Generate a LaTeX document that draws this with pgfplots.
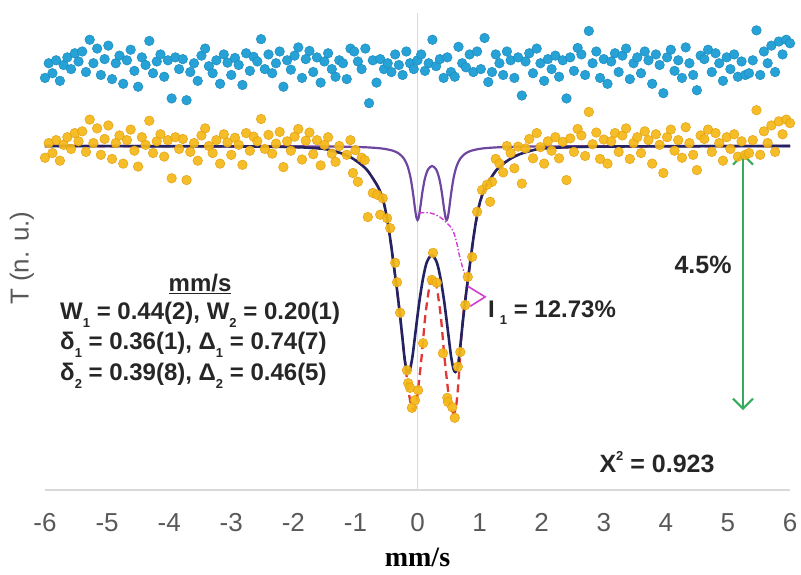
\documentclass[border=0pt]{standalone}
\usepackage{pgfplots}
\pgfplotsset{compat=1.18}
\usepackage{pgfplotstable}
\usepackage{fontspec}
\setmainfont{Liberation Sans}
\newfontfamily\timesf{Liberation Serif}
\usetikzlibrary{arrows.meta}
\definecolor{navyfit}{RGB}{35,35,100}
\definecolor{purplefit}{RGB}{110,70,160}
\definecolor{redfit}{RGB}{225,55,55}
\definecolor{magfit}{RGB}{210,60,210}
\definecolor{arrowgreen}{RGB}{55,170,95}
\definecolor{ptorange}{RGB}{244,184,22}
\definecolor{ptorangedk}{RGB}{228,160,20}
\definecolor{ptblue}{RGB}{38,162,214}
\definecolor{ptbluedk}{RGB}{30,138,190}
\definecolor{axgray}{RGB}{217,217,217}
\definecolor{tickgray}{RGB}{89,89,89}
\definecolor{textdark}{RGB}{38,38,38}
\newcommand{\sub}[1]{\raisebox{-0.3em}{\fontsize{13}{13}\selectfont #1}}

\pgfplotstableread{
x orange blue
-6.00 99.80 101.16
-5.94 100.05 101.41
-5.88 99.88 101.24
-5.82 100.10 101.46
-5.76 99.75 101.11
-5.70 100.02 101.38
-5.64 100.15 101.51
-5.58 99.95 101.31
-5.52 100.22 101.58
-5.46 100.08 101.44
-5.40 100.25 101.61
-5.34 99.90 101.26
-5.28 100.45 101.81
-5.22 100.05 101.41
-5.16 100.30 101.66
-5.10 99.85 101.21
-5.04 100.12 101.48
-4.98 100.35 101.71
-4.92 99.78 101.14
-4.86 100.05 101.41
-4.80 100.18 101.54
-4.74 99.70 101.06
-4.68 100.10 101.46
-4.62 100.28 101.64
-4.56 99.92 101.28
-4.50 99.65 101.01
-4.44 100.15 101.51
-4.38 100.02 101.38
-4.32 100.43 101.79
-4.26 99.88 101.24
-4.20 100.08 101.44
-4.14 100.20 101.56
-4.08 99.82 101.18
-4.02 100.10 101.46
-3.96 99.45 100.81
-3.90 100.15 101.51
-3.84 99.95 101.31
-3.78 100.12 101.48
-3.72 99.42 100.78
-3.66 99.90 101.26
-3.60 100.05 101.41
-3.54 99.75 101.11
-3.48 100.18 101.54
-3.42 100.30 101.66
-3.36 100.00 101.36
-3.30 99.88 101.24
-3.24 100.10 101.46
-3.18 99.70 101.06
-3.12 100.20 101.56
-3.06 100.06 101.42
-3.00 99.85 101.21
-2.94 100.14 101.50
-2.88 100.02 101.38
-2.82 99.68 101.04
-2.76 100.22 101.58
-2.70 99.92 101.28
-2.64 100.16 101.52
-2.58 100.08 101.44
-2.52 100.46 101.82
-2.46 99.95 101.31
-2.40 100.19 101.56
-2.34 99.87 101.24
-2.28 100.04 101.41
-2.22 100.24 101.61
-2.16 99.64 101.01
-2.10 100.08 101.46
-2.04 99.92 101.30
-1.98 100.16 101.54
-1.92 100.29 101.68
-1.86 99.77 101.16
-1.80 100.09 101.48
-1.74 100.23 101.62
-1.68 99.86 101.26
-1.62 100.10 101.51
-1.56 99.67 101.08
-1.50 100.02 101.44
-1.44 100.15 101.58
-1.38 99.87 101.31
-1.32 99.73 101.18
-1.26 100.00 101.46
1.20 99.39 101.26
1.26 99.78 101.56
1.32 99.70 101.41
1.38 99.55 101.21
1.44 100.00 101.61
1.50 99.88 101.46
1.56 99.62 101.16
1.62 99.99 101.51
1.68 99.36 100.86
1.74 99.96 101.44
1.80 100.12 101.58
1.86 99.79 101.24
1.92 100.22 101.66
1.98 99.98 101.41
2.04 99.70 101.11
2.10 100.08 101.48
2.16 99.92 101.31
2.22 100.15 101.54
2.28 99.79 101.18
2.34 100.07 101.46
2.40 99.42 100.81
2.46 100.13 101.51
2.52 99.90 101.28
2.58 100.29 101.67
2.64 100.18 101.56
2.70 99.83 101.21
2.76 100.58 101.96
2.82 100.03 101.41
2.88 100.23 101.61
2.94 99.78 101.16
3.00 100.11 101.48
3.06 99.70 101.06
3.12 100.08 101.44
3.18 100.22 101.58
3.24 99.90 101.26
3.30 100.18 101.54
3.36 100.30 101.66
3.42 99.78 101.14
3.48 100.05 101.41
3.54 100.15 101.51
3.60 99.88 101.24
3.66 100.25 101.61
3.72 100.10 101.46
3.78 99.70 101.06
3.84 100.20 101.56
3.90 100.02 101.38
3.96 99.54 100.90
4.02 100.15 101.51
4.08 100.28 101.64
4.14 99.92 101.28
4.20 100.10 101.46
4.26 99.80 101.16
4.32 100.32 101.68
4.38 100.05 101.41
4.44 99.85 101.21
4.50 99.59 100.95
4.56 100.18 101.54
4.62 100.12 101.48
4.68 100.28 101.64
4.74 99.90 101.26
4.80 100.22 101.58
4.86 100.05 101.41
4.92 99.75 101.11
4.98 100.15 101.51
5.04 99.95 101.31
5.10 100.20 101.56
5.16 99.82 101.18
5.22 100.08 101.44
5.28 99.85 101.21
5.34 99.88 101.24
5.40 100.10 101.46
5.46 100.61 101.97
5.52 99.85 101.21
5.58 100.25 101.61
5.64 100.05 101.41
5.70 100.35 101.71
5.76 99.90 101.26
5.82 100.42 101.78
5.88 100.20 101.56
5.94 100.45 101.81
6.00 100.39 101.75
}\farpts

\pgfplotstableread{
x blue
-1.20 101.41
-1.14 101.14
-1.08 101.66
-1.02 101.61
-0.96 101.44
-0.90 101.31
-0.84 101.66
-0.78 100.73
-0.72 101.46
-0.66 101.08
-0.60 101.48
-0.54 101.31
-0.48 101.41
-0.42 101.26
-0.36 101.56
-0.30 101.38
-0.24 101.21
-0.18 101.61
-0.12 101.41
-0.06 101.31
0.00 101.46
0.06 101.56
0.12 101.28
0.18 101.41
0.24 101.81
0.30 101.36
0.36 101.48
0.42 101.16
0.48 101.51
0.54 101.26
0.60 101.18
0.66 101.69
0.72 101.41
0.78 101.34
0.84 101.56
0.90 101.26
0.96 101.61
1.02 101.31
1.08 101.84
1.14 101.09
}\midblue

\pgfplotstableread{
x orange
-1.14 99.85
-1.08 100.10
-1.04 99.54
-1.00 99.93
-0.96 99.39
-0.90 99.80
-0.85 99.76
-0.80 98.79
-0.72 99.20
-0.65 99.17
-0.60 98.83
-0.56 99.11
-0.49 98.77
-0.44 98.60
-0.36 98.01
-0.33 97.68
-0.28 97.16
-0.17 96.18
-0.15 95.96
-0.12 95.88
-0.09 95.54
-0.04 95.67
0.01 95.84
0.09 96.64
0.23 97.72
0.25 98.18
0.31 97.67
0.41 96.47
0.48 95.71
0.49 95.64
0.56 95.55
0.60 95.37
0.65 96.24
0.69 96.49
0.77 97.29
0.81 97.77
0.88 98.11
0.96 98.88
1.04 99.25
1.12 99.34
1.17 99.05
}\midorange

\begin{document}
\begin{tikzpicture}
\begin{axis}[
  scale only axis, width=745pt, height=477pt,
  xmin=-6, xmax=6, ymin=94.14, ymax=102.266,
  axis x line=bottom, axis y line=none,
  axis line style={-, draw=axgray, line width=1.2pt},
  xtick={-6,-5,...,6}, ytick=\empty,
  major tick length=0pt,
  /pgf/number format/assume math mode=true,
  xticklabel style={font=\fontsize{26}{26}\selectfont, text=tickgray, anchor=base, yshift=-42pt},
  clip=false,
]
\addplot[axgray, line width=1.2pt] coordinates {(0,94.14) (0,102.266)};

% residuals
\addplot[only marks, mark=*, mark size=4.8pt, mark options={fill=ptblue, draw=ptbluedk, line width=0.5pt}] table[x=x, y=blue] {\farpts};
\addplot[only marks, mark=*, mark size=4.8pt, mark options={fill=ptblue, draw=ptbluedk, line width=0.5pt}] table[x=x, y=blue] {\midblue};

% narrow doublet
\addplot[purplefit, line width=2.2pt, smooth, tension=0.5] coordinates {
(-6,100) (-2,99.995) (-1,99.984) (-0.6,99.961) (-0.4,99.921) (-0.3,99.871) (-0.22,99.787) (-0.16,99.657) (-0.11,99.45) (-0.07,99.177) (-0.04,98.929) (-0.02,98.795) (0,98.739) (0.02,98.787) (0.05,98.991) (0.08,99.222) (0.12,99.449) (0.17,99.601) (0.235,99.659) (0.30,99.601) (0.35,99.449) (0.39,99.222) (0.42,98.991) (0.45,98.787) (0.47,98.739) (0.49,98.795) (0.51,98.929) (0.54,99.177) (0.58,99.45) (0.63,99.657) (0.69,99.787) (0.77,99.871) (0.87,99.921) (1.07,99.961) (1.47,99.984) (2.47,99.995) (6,100)};

% broad doublet (dashed)
\addplot[redfit, line width=2.3pt, dash pattern=on 8pt off 5pt, smooth, tension=0.5] coordinates {
(-6,100) (-2.5,99.99) (-1.6,99.96) (-1.3,99.90) (-1.1,99.82) (-0.95,99.72) (-0.82,99.60) (-0.72,99.45) (-0.62,99.27) (-0.54,99.02) (-0.48,98.70) (-0.43,98.35) (-0.38,97.95) (-0.33,97.55) (-0.28,97.10) (-0.24,96.70) (-0.21,96.40) (-0.16,95.95) (-0.11,95.62) (-0.06,95.50) (-0.02,95.62) (0.02,95.95) (0.07,96.45) (0.12,97.05) (0.17,97.46) (0.21,97.70) (0.25,97.77) (0.29,97.70) (0.33,97.46) (0.38,97.05) (0.43,96.45) (0.48,95.95) (0.52,95.62) (0.56,95.48) (0.59,95.45) (0.62,95.55) (0.65,95.85) (0.68,96.30) (0.71,96.80) (0.74,97.15) (0.79,97.55) (0.84,97.95) (0.89,98.35) (0.94,98.70) (1.00,99.02) (1.08,99.27) (1.18,99.45) (1.28,99.60) (1.41,99.72) (1.56,99.82) (1.76,99.90) (2.06,99.96) (2.96,99.99) (6,100)};

% total fit
\addplot[navyfit, line width=2.6pt, smooth, tension=0.5] coordinates {
(-6,100) (-2.5,99.99) (-1.6,99.96) (-1.3,99.90) (-1.1,99.82) (-0.95,99.72) (-0.82,99.60) (-0.72,99.45) (-0.62,99.27) (-0.54,99.02) (-0.48,98.70) (-0.43,98.35) (-0.38,97.95) (-0.33,97.55) (-0.28,97.10) (-0.24,96.70) (-0.21,96.40) (-0.18,96.20) (-0.15,96.15) (-0.12,96.20) (-0.08,96.42) (-0.03,96.85) (0.03,97.35) (0.09,97.75) (0.15,98.02) (0.23,98.14) (0.31,98.02) (0.37,97.75) (0.43,97.35) (0.49,96.85) (0.54,96.42) (0.58,96.20) (0.61,96.15) (0.64,96.20) (0.67,96.40) (0.70,96.70) (0.74,97.10) (0.79,97.55) (0.84,97.95) (0.89,98.35) (0.94,98.70) (1.00,99.02) (1.08,99.27) (1.18,99.45) (1.28,99.60) (1.41,99.72) (1.56,99.82) (1.76,99.90) (2.06,99.96) (2.96,99.99) (6,100)};

% magenta guide
\addplot[magfit, line width=1.4pt, dash pattern=on 5pt off 2pt on 1.5pt off 2pt, smooth] coordinates {
(0.03,98.86) (0.20,98.86) (0.36,98.79) (0.55,98.60) (0.63,98.36) (0.68,98.11) (0.75,97.85) (0.80,97.70)};

% measured spectrum
\addplot[only marks, mark=*, mark size=4.8pt, mark options={fill=ptorange, draw=ptorangedk, line width=0.5pt, fill opacity=0.92}] table[x=x, y=orange] {\farpts};
\addplot[only marks, mark=*, mark size=4.8pt, mark options={fill=ptorange, draw=ptorangedk, line width=0.5pt, fill opacity=0.92}] table[x=x, y=orange] {\midorange};

% annotations
\draw[magfit, line width=1.6pt] (axis cs:0.81,97.61) -- (axis cs:1.09,97.43) -- (axis cs:0.85,97.27);
\node[anchor=base west, inner sep=0pt, text=textdark, font=\fontsize{24}{24}\selectfont\bfseries] at (axis cs:1.136,97.087) {I\hspace{5pt}\sub{1} = 12.73\%};

\draw[arrowgreen, line width=2.2pt, {Straight Barb[length=10pt,width=20pt]}-{Straight Barb[length=10pt,width=20pt]}] (axis cs:5.243,99.88) -- (axis cs:5.243,95.50);
\node[anchor=center, inner sep=0pt, text=textdark, font=\fontsize{25}{25}\selectfont\bfseries] at (axis cs:4.599,97.973) {4.5\%};

\node[anchor=center, inner sep=0pt, text=textdark, font=\fontsize{25}{25}\selectfont\bfseries] at (axis cs:3.858,94.617) {X\raisebox{0.45em}{\fontsize{13}{13}\selectfont 2} = 0.923};

\node[anchor=base, inner sep=0pt, text=textdark, font=\fontsize{24}{24}\selectfont\bfseries] at (axis cs:-3.503,97.53) {\underline{mm/s}};
\node[anchor=base west, inner sep=0pt, text=textdark, font=\fontsize{24}{24}\selectfont\bfseries] at (axis cs:-5.758,97.036) {W\sub{1} = 0.44(2), W\sub{2} = 0.20(1)};
\node[anchor=base west, inner sep=0pt, text=textdark, font=\fontsize{24}{24}\selectfont\bfseries] at (axis cs:-5.758,96.525) {δ\sub{1} = 0.36(1), Δ\sub{1} = 0.74(7)};
\node[anchor=base west, inner sep=0pt, text=textdark, font=\fontsize{24}{24}\selectfont\bfseries] at (axis cs:-5.758,95.997) {δ\sub{2} = 0.39(8), Δ\sub{2} = 0.46(5)};

\node[rotate=90, inner sep=0pt, text=tickgray, font=\fontsize{26}{26}\selectfont] at ([xshift=-23pt]rel axis cs:0,0.486) {T (n. u.)};
\node[anchor=base, inner sep=0pt, text=black, font=\fontsize{28}{28}\selectfont\timesf\bfseries] at ([yshift=-77pt]rel axis cs:0.5,0) {mm/s};
\end{axis}
\pgfresetboundingbox
\path[use as bounding box] ([shift={(-45pt,-85pt)}]current axis.south west) rectangle ([shift={(11pt,13pt)}]current axis.north east);
\end{tikzpicture}
\end{document}
